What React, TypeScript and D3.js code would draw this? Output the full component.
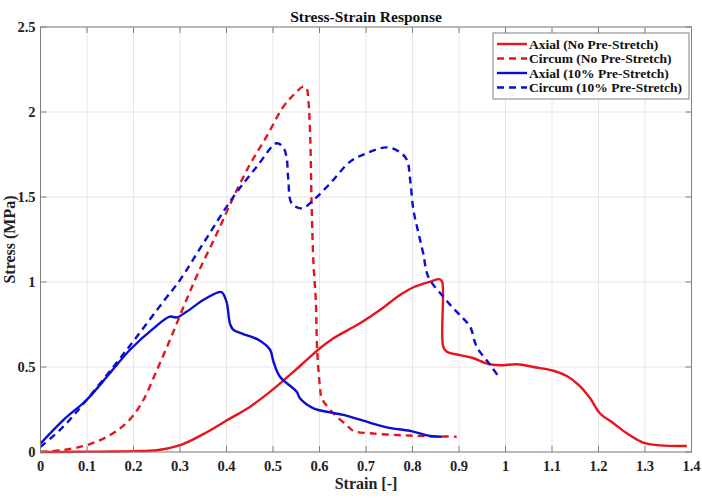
import React from "react";
import * as d3 from "d3";

const axialNoX = [0, 0.05, 0.1, 0.15, 0.2, 0.25, 0.3, 0.35, 0.4, 0.45, 0.5, 0.558, 0.601, 0.63, 0.687, 0.73, 0.773, 0.802, 0.838, 0.859, 0.864, 0.866, 0.874, 0.902, 0.93, 0.96, 0.988, 1.024, 1.06, 1.103, 1.132, 1.16, 1.182, 1.203, 1.232, 1.261, 1.296, 1.332, 1.39];
const axialNoY = [0, 0, 0.002, 0.003, 0.005, 0.01, 0.04, 0.105, 0.185, 0.265, 0.368, 0.506, 0.61, 0.669, 0.757, 0.835, 0.924, 0.969, 1.002, 1.016, 1.0, 0.62, 0.59, 0.57, 0.553, 0.52, 0.51, 0.516, 0.5, 0.478, 0.447, 0.388, 0.316, 0.228, 0.169, 0.11, 0.055, 0.039, 0.035];

const circNoX = [0, 0.05, 0.1, 0.15, 0.19, 0.22, 0.25, 0.28, 0.31, 0.34, 0.38, 0.415, 0.45, 0.486, 0.522, 0.544, 0.565, 0.572, 0.576, 0.58, 0.583, 0.587, 0.592, 0.595, 0.601, 0.605, 0.63, 0.658, 0.673, 0.709, 0.766, 0.823, 0.895];
const circNoY = [0, 0.012, 0.041, 0.1, 0.185, 0.3, 0.48, 0.67, 0.87, 1.06, 1.29, 1.5, 1.69, 1.855, 2.03, 2.1, 2.149, 2.14, 2.07, 1.855, 1.463, 1.11, 0.894, 0.6, 0.384, 0.316, 0.227, 0.159, 0.124, 0.11, 0.1, 0.094, 0.09];

const axial10X = [0, 0.049, 0.099, 0.149, 0.192, 0.243, 0.278, 0.293, 0.314, 0.35, 0.382, 0.39, 0.4, 0.408, 0.415, 0.436, 0.472, 0.494, 0.501, 0.515, 0.551, 0.558, 0.587, 0.623, 0.651, 0.694, 0.745, 0.795, 0.838, 0.863];
const axial10Y = [0.05, 0.188, 0.306, 0.463, 0.6, 0.727, 0.796, 0.792, 0.825, 0.894, 0.939, 0.94, 0.884, 0.75, 0.718, 0.694, 0.655, 0.6, 0.531, 0.443, 0.355, 0.316, 0.257, 0.233, 0.218, 0.184, 0.145, 0.124, 0.094, 0.09];

const circ10X = [0, 0.049, 0.099, 0.157, 0.207, 0.264, 0.3, 0.35, 0.415, 0.465, 0.508, 0.522, 0.529, 0.533, 0.54, 0.562, 0.587, 0.623, 0.666, 0.701, 0.745, 0.773, 0.788, 0.795, 0.802, 0.813, 0.823, 0.834, 0.866, 0.888, 0.909, 0.924, 0.938, 0.967, 0.988];
const circ10Y = [0.03, 0.149, 0.306, 0.502, 0.678, 0.884, 1.012, 1.227, 1.502, 1.678, 1.816, 1.792, 1.737, 1.6, 1.463, 1.433, 1.482, 1.58, 1.708, 1.757, 1.792, 1.763, 1.718, 1.6, 1.424, 1.286, 1.169, 1.031, 0.914, 0.845, 0.786, 0.737, 0.62, 0.512, 0.433];

const xTicks = [0, 0.1, 0.2, 0.3, 0.4, 0.5, 0.6, 0.7, 0.8, 0.9, 1, 1.1, 1.2, 1.3, 1.4];
const yTicks = [0, 0.5, 1, 1.5, 2, 2.5];

const seriesNames = ["Axial (No Pre-Stretch)", "Circum (No Pre-Stretch)", "Axial (10% Pre-Stretch)", "Circum (10% Pre-Stretch)"];

const RED = "#e8141c";
const BLUE = "#0a0ed4";

export default function App() {
  const W = 702, H = 504;
  const L = 40.5, R = 691.5, T = 27, B = 452;
  const x = d3.scaleLinear().domain([0, 1.4]).range([L, R]);
  const y = d3.scaleLinear().domain([0, 2.5]).range([B, T]);
  const line = d3
    .line<[number, number]>()
    .x(d => x(d[0]))
    .y(d => y(d[1]))
    .curve(d3.curveCatmullRom.alpha(0.5));
  const zip = (a: number[], b: number[]) => a.map((v, i) => [v, b[i]] as [number, number]);

  const series = [
    { name: seriesNames[0], d: zip(axialNoX, axialNoY), color: RED, dash: undefined },
    { name: seriesNames[1], d: zip(circNoX, circNoY), color: RED, dash: "7,5" },
    { name: seriesNames[2], d: zip(axial10X, axial10Y), color: BLUE, dash: undefined },
    { name: seriesNames[3], d: zip(circ10X, circ10Y), color: BLUE, dash: "7,5" },
  ];

  const font = "'Liberation Serif', 'Times New Roman', serif";
  const axisColor = "#808080";
  const legX = 493, legY = 33, legW = 196, legH = 66;

  return (
    <svg width={W} height={H} style={{ position: "absolute", left: 0, top: 0, background: "#fff" }} fontFamily={font}>
      <rect x={0} y={0} width={W} height={H} fill="#fff" />
      {xTicks.map(t => (
        <line key={"gx" + t} x1={x(t)} x2={x(t)} y1={T} y2={B} stroke="#e6e6e6" strokeWidth={1} />
      ))}
      {yTicks.map(t => (
        <line key={"gy" + t} x1={L} x2={R} y1={y(t)} y2={y(t)} stroke="#e6e6e6" strokeWidth={1} />
      ))}
      <g fill="none" strokeLinejoin="round">
        {series.map(s => (
          <path key={s.name} d={line(s.d) || ""} stroke={s.color} strokeWidth={2.4} strokeDasharray={s.dash} />
        ))}
      </g>
      <rect x={L} y={T} width={R - L} height={B - T} fill="none" stroke={axisColor} strokeWidth={1} />
      {xTicks.map(t => (
        <g key={"tx" + t}>
          <line x1={x(t)} x2={x(t)} y1={B} y2={B - 6} stroke={axisColor} />
          <line x1={x(t)} x2={x(t)} y1={T} y2={T + 6} stroke={axisColor} />
          <text x={x(t)} y={B + 19} textAnchor="middle" fontSize={14.5} fontWeight="bold" fill="#222">{String(t)}</text>
        </g>
      ))}
      {yTicks.map(t => (
        <g key={"ty" + t}>
          <line x1={L} x2={L + 6} y1={y(t)} y2={y(t)} stroke={axisColor} />
          <line x1={R} x2={R - 6} y1={y(t)} y2={y(t)} stroke={axisColor} />
          <text x={L - 5} y={y(t) + 5} textAnchor="end" fontSize={14.5} fontWeight="bold" fill="#222">{String(t)}</text>
        </g>
      ))}
      <text x={(L + R) / 2} y={22} textAnchor="middle" fontSize={15.5} fontWeight="bold" fill="#111">Stress-Strain Response</text>
      <text x={(L + R) / 2} y={489} textAnchor="middle" fontSize={16} fontWeight="bold" fill="#222">Strain [-]</text>
      <text transform={`translate(15,${(T + B) / 2}) rotate(-90)`} textAnchor="middle" fontSize={16} fontWeight="bold" fill="#222">Stress (MPa)</text>
      <rect x={legX} y={legY} width={legW} height={legH} fill="#fff" stroke={axisColor} strokeWidth={1} />
      {series.map((s, i) => {
        const cy = legY + 11 + i * 14.5;
        return (
          <g key={"leg" + i}>
            <line x1={legX + 4} x2={legX + 34} y1={cy} y2={cy} stroke={s.color} strokeWidth={2.4} strokeDasharray={s.dash} />
            <text x={legX + 36} y={cy + 4.5} fontSize={13.5} fontWeight="bold" fill="#111">{s.name}</text>
          </g>
        );
      })}
    </svg>
  );
}
